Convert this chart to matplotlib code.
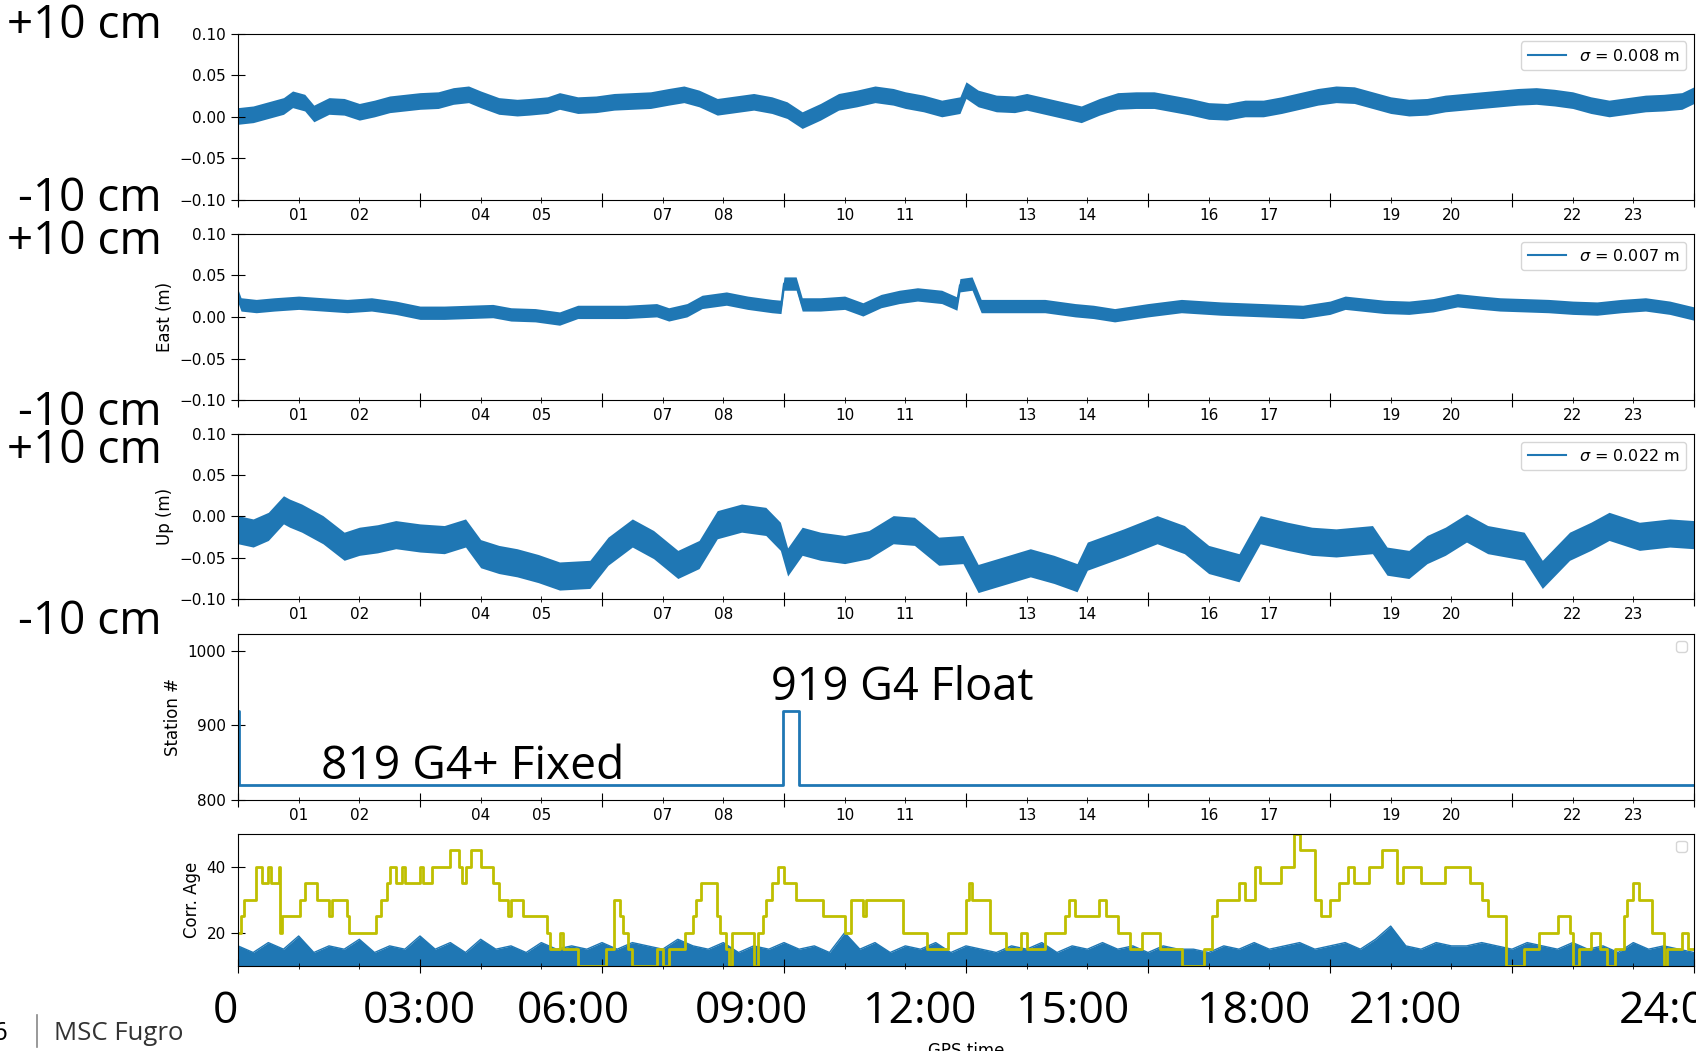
import matplotlib
matplotlib.use('Agg')
import matplotlib.pyplot as plt
from matplotlib.ticker import MultipleLocator, FuncFormatter, NullFormatter
from matplotlib.lines import Line2D
import numpy as np

# ---- data (hours of GPS day) ----
north_t = [0.0, 0.25, 0.5, 0.75, 0.9, 1.1, 1.25, 1.5, 1.75, 2.0, 2.25, 2.5, 2.75, 3.0, 3.3,
           3.55, 3.8, 4.0, 4.3, 4.6, 4.8, 5.1, 5.3, 5.6, 5.9, 6.2, 6.5, 6.8, 7.1, 7.35,
           7.6, 7.9, 8.2, 8.5, 8.8, 9.05, 9.3, 9.6, 9.9, 10.2, 10.5, 10.8, 11.0, 11.3, 11.6,
           11.9, 12.0, 12.2, 12.5, 12.8, 13.0, 13.3, 13.6, 13.9, 14.2, 14.5, 14.8, 15.1, 15.4,
           15.7, 16.0, 16.3, 16.6, 16.9, 17.2, 17.5, 17.8, 18.1, 18.4, 18.7, 19.0, 19.3, 19.6,
           19.9, 20.2, 20.5, 20.8, 21.1, 21.4, 21.7, 22.0, 22.3, 22.6, 22.9, 23.2, 23.5, 23.8, 24.0]
north_v = [0.001, 0.003, 0.008, 0.013, 0.021, 0.017, 0.004, 0.013, 0.012, 0.006, 0.010, 0.015,
           0.017, 0.019, 0.020, 0.025, 0.027, 0.021, 0.013, 0.011, 0.012, 0.014, 0.019, 0.014,
           0.015, 0.018, 0.019, 0.020, 0.024, 0.027, 0.022, 0.012, 0.015, 0.018, 0.014, 0.008,
           -0.004, 0.006, 0.018, 0.022, 0.027, 0.024, 0.020, 0.016, 0.010, 0.014, 0.032, 0.022,
           0.016, 0.015, 0.018, 0.013, 0.008, 0.003, 0.012, 0.019, 0.020, 0.020, 0.016, 0.012,
           0.007, 0.006, 0.010, 0.010, 0.014, 0.019, 0.024, 0.027, 0.026, 0.020, 0.014, 0.011,
           0.012, 0.016, 0.018, 0.020, 0.022, 0.024, 0.025, 0.023, 0.020, 0.014, 0.010, 0.013,
           0.016, 0.017, 0.019, 0.026]
north_spread = 0.010

east_t = [0.0, 0.05, 0.3, 0.6, 1.0, 1.4, 1.8, 2.2, 2.6, 3.0, 3.4, 3.8, 4.2, 4.5, 4.9, 5.3,
          5.6, 6.0, 6.4, 6.9, 7.1, 7.4, 7.65, 8.05, 8.4, 8.8, 8.95, 9.0, 9.2, 9.3, 9.6, 10.0,
          10.3, 10.6, 10.9, 11.2, 11.6, 11.85, 11.9, 12.1, 12.25, 12.7, 13.3, 13.8, 14.1, 14.45,
          15.0, 15.55, 16.2, 16.9, 17.55, 18.0, 18.25, 18.9, 19.3, 19.7, 20.1, 20.5, 20.8, 21.2,
          21.6, 22.0, 22.4, 22.8, 23.2, 23.6, 24.0]
east_v = [0.025, 0.015, 0.013, 0.015, 0.017, 0.015, 0.013, 0.015, 0.011, 0.005, 0.005, 0.006,
          0.007, 0.003, 0.002, -0.002, 0.006, 0.006, 0.006, 0.008, 0.003, 0.008, 0.018, 0.022,
          0.017, 0.013, 0.012, 0.040, 0.040, 0.015, 0.015, 0.017, 0.009, 0.019, 0.024, 0.027,
          0.024, 0.016, 0.038, 0.040, 0.013, 0.013, 0.013, 0.008, 0.006, 0.002, 0.008, 0.013,
          0.010, 0.008, 0.006, 0.011, 0.017, 0.012, 0.011, 0.014, 0.020, 0.017, 0.015, 0.014,
          0.013, 0.011, 0.010, 0.013, 0.015, 0.011, 0.004]
east_spread = 0.008

up_t = [0.0, 0.25, 0.5, 0.75, 0.85, 1.05, 1.4, 1.75, 2.0, 2.3, 2.6, 3.0, 3.4, 3.75, 4.0, 4.3,
        4.6, 4.95, 5.3, 5.8, 6.1, 6.5, 6.85, 7.25, 7.6, 7.9, 8.3, 8.7, 8.94, 9.06, 9.3, 9.6,
        10.0, 10.4, 10.8, 11.15, 11.55, 11.95, 12.2, 12.7, 13.06, 13.45, 13.83, 14.0, 14.3,
        14.6, 15.15, 15.6, 16.0, 16.5, 16.85, 17.3, 17.7, 18.1, 18.7, 18.94, 19.3, 19.6, 19.9,
        20.25, 20.6, 21.2, 21.5, 21.95, 22.3, 22.6, 23.1, 23.6, 24.0]
up_v = [-0.016, -0.020, -0.012, 0.008, 0.004, -0.002, -0.016, -0.036, -0.030, -0.027, -0.022,
        -0.026, -0.028, -0.020, -0.045, -0.052, -0.056, -0.063, -0.072, -0.070, -0.042, -0.020,
        -0.034, -0.058, -0.046, -0.010, -0.002, -0.006, -0.024, -0.055, -0.030, -0.036, -0.040,
        -0.034, -0.016, -0.018, -0.042, -0.040, -0.075, -0.064, -0.056, -0.064, -0.074, -0.048,
        -0.040, -0.032, -0.016, -0.028, -0.052, -0.062, -0.016, -0.024, -0.030, -0.032, -0.028,
        -0.054, -0.058, -0.040, -0.030, -0.014, -0.028, -0.036, -0.070, -0.036, -0.024, -0.012,
        -0.024, -0.020, -0.022]
up_spread = 0.017

sigma_labels = ['$\\sigma$ = 0.008 m', '$\\sigma$ = 0.007 m', '$\\sigma$ = 0.022 m']

station_t = [0.0, 0.02, 8.98, 9.25, 24.0]
station_v = [919, 819, 919, 819, 819]

age_t = [0.0, 0.05, 0.1, 0.3, 0.4, 0.5, 0.55, 0.67, 0.7, 0.72, 1.03, 1.1, 1.3, 1.5, 1.55, 1.79,
         1.83, 2.28, 2.35, 2.45, 2.5, 2.6, 2.7, 2.75, 3.0, 3.05, 3.2, 3.5, 3.65, 3.7, 3.75, 3.84,
         4.0, 4.2, 4.3, 4.45, 4.5, 4.7, 5.1, 5.15, 5.3, 5.36, 5.6, 6.07, 6.2, 6.3, 6.34, 6.43,
         6.5, 6.9, 7.0, 7.1, 7.37, 7.5, 7.55, 7.63, 7.9, 7.95, 8.05, 8.1, 8.15, 8.5, 8.57, 8.65,
         8.7, 8.8, 8.9, 9.0, 9.2, 9.64, 10.0, 10.1, 10.3, 10.35, 10.96, 11.36, 11.7, 12.0, 12.05,
         12.1, 12.4, 12.66, 12.9, 13.0, 13.3, 13.64, 13.7, 13.8, 14.2, 14.3, 14.5, 14.7, 14.9,
         15.2, 15.56, 15.92, 16.05, 16.14, 16.5, 16.6, 16.77, 16.85, 17.2, 17.4, 17.5, 17.75,
         17.85, 18.0, 18.15, 18.3, 18.4, 18.65, 18.86, 19.1, 19.2, 19.5, 19.9, 20.3, 20.5, 20.6,
         20.9, 21.2, 21.45, 21.76, 21.95, 22.0, 22.1, 22.3, 22.45, 22.57, 22.7, 22.84, 22.9,
         23.0, 23.1, 23.3, 23.5, 23.55, 23.8, 23.9, 24.0]
age_yellow = [20, 25, 30, 40, 35, 40, 35, 40, 20, 25, 30, 35, 30, 25, 30, 25,
              20, 25, 30, 35, 40, 35, 40, 35, 40, 35, 40, 45, 40, 35, 40, 45,
              40, 35, 30, 25, 30, 25, 20, 15, 20, 15, 10, 15, 30, 25, 20, 15,
              10, 15, 10, 15, 20, 25, 30, 35, 25, 20, 15, 10, 20, 10, 20, 25,
              30, 35, 40, 35, 30, 25, 20, 30, 25, 30, 20, 15, 20, 30, 35,
              30, 20, 15, 20, 15, 20, 25, 30, 25, 30, 25, 20, 15, 20,
              15, 10, 15, 25, 30, 35, 30, 40, 35, 40, 50, 45, 30,
              25, 30, 35, 40, 35, 40, 45, 35, 40, 35, 40, 35, 30, 25,
              10, 15, 20, 25, 20, 10, 15, 20, 15, 10, 15, 25, 30,
              35, 30, 20, 10, 15, 20, 15, 15]
age_blue = [16, 14, 17, 15, 19, 14, 16, 15, 18,
            14, 16, 15, 19, 15, 17, 14, 18,
            15, 16, 14, 17, 15, 16, 15, 17,
            15, 17, 16, 15, 18, 16, 15, 17,
            14, 16, 15, 17, 15, 16, 14, 20,
            15, 17, 14, 16, 15, 17, 14, 16,
            15, 14, 16, 15, 17, 14, 16, 15,
            17, 15, 16, 14, 16, 15, 15, 14,
            16, 15, 17, 15, 16, 17, 15, 16,
            17, 15, 18, 22, 16, 15, 17, 16,
            16, 17, 16, 15, 17, 16, 15, 17,
            15, 16, 14, 17, 15, 16, 15, 14]

blue = '#1f77b4'
yellow = '#bfbf00'
W, H = 1696.0, 1051.0
big_font = ['Open Sans', 'DejaVu Sans']


def box(top, bottom):
    return [238 / W, 1 - bottom / H, (1694 - 238) / W, (bottom - top) / H]


def time_axis(ax, labels=True):
    ax.set_xlim(0, 24)
    ax.xaxis.set_major_locator(MultipleLocator(3))
    ax.xaxis.set_minor_locator(MultipleLocator(1))
    ax.xaxis.set_major_formatter(NullFormatter())
    ax.xaxis.set_minor_formatter(FuncFormatter(lambda x, p: '%02d' % round(x)))
    ax.tick_params(which='major', direction='inout', length=10.5, labelsize=11)
    ax.tick_params(which='minor', direction='inout', length=5, labelsize=11)
    if not labels:
        ax.tick_params(which='both', labelbottom=False)


fig = plt.figure(figsize=(16.96, 10.51), dpi=100)

boxes = [(33.5, 200.1), (233.6, 400.2), (433.7, 599.2)]
series = [(north_t, north_v, north_spread, None),
          (east_t, east_v, east_spread, 'East (m)'),
          (up_t, up_v, up_spread, 'Up (m)')]
for (top, bot), (t, v, s, ylab), lab in zip(boxes, series, sigma_labels):
    ax = fig.add_axes(box(top, bot))
    t = np.array(t)
    v = np.array(v)
    ax.fill_between(t, v - s, v + s, color=blue, lw=0)
    ln, = ax.plot(t, v, color=blue, lw=1.5)
    ax.set_ylim(-0.1, 0.1)
    ax.set_yticks([-0.1, -0.05, 0.0, 0.05, 0.1])
    time_axis(ax)
    if ylab:
        ax.set_ylabel(ylab, fontsize=12)
    ax.legend([ln], [lab], loc='upper right', fontsize=11.5, handlelength=2.4)

# station number
ax4 = fig.add_axes(box(633.8, 799.5))
ax4.plot(station_t, station_v, drawstyle='steps-post', color=blue, lw=2)
ax4.set_ylim(800, 1023)
ax4.set_yticks([800, 900, 1000])
time_axis(ax4)
ax4.set_ylabel('Station #', fontsize=12)
ax4.legend(handles=[], loc='upper right')

# correction age
ax5 = fig.add_axes(box(833.7, 965.7))
blue_t = np.linspace(0, 24, len(age_blue))
ax5.fill_between(blue_t, 10, age_blue, color=blue, lw=0)
ax5.plot(blue_t, age_blue, color=blue, lw=1)
ax5.plot(age_t, age_yellow, drawstyle='steps-post', color=yellow, lw=2)
ax5.set_ylim(10, 50)
ax5.set_yticks([20, 40])
time_axis(ax5, labels=False)
ax5.set_ylabel('Corr. Age', fontsize=12)
ax5.legend(handles=[], loc='upper right')
ax5.set_xlabel('GPS time', fontsize=12)
ax5.xaxis.set_label_coords(0.5, -0.578)

# slide annotations on top of the figure
for y in [26.0, 242.0, 451.0]:
    fig.text(162 / W, 1 - y / H, '+10 cm', ha='right', va='center', fontsize=33, family=big_font)
for y in [199.0, 413.0, 622.0]:
    fig.text(162 / W, 1 - y / H, '-10 cm', ha='right', va='center', fontsize=33, family=big_font)

fig.text(771 / W, 1 - 688.0 / H, '919 G4 Float', ha='left', va='center', fontsize=32.5, family=big_font)
fig.text(321 / W, 1 - 767.0 / H, '819 G4+ Fixed', ha='left', va='center', fontsize=33.2, family=big_font)

time_marks = ['0', '03:00', '06:00', '09:00', '12:00', '15:00', '18:00', '21:00']
time_x = [225.5, 419.7, 573.8, 751.7, 919.6, 1072.4, 1253.6, 1405.0]
for lab, x in zip(time_marks, time_x):
    fig.text(x / W, 1 - 1012.0 / H, lab, ha='center', va='center', fontsize=32, family=big_font)
fig.text(1619 / W, 1 - 1012.0 / H, '24:00', ha='left', va='center', fontsize=32, family=big_font)

fig.text(7 / W, 1 - 1033 / H, '6', ha='right', va='center', fontsize=18.5, family=big_font)
fig.add_artist(Line2D([37 / W, 37 / W], [1 - 1015 / H, 1 - 1047 / H], color='#888888', lw=1.2))
fig.text(54 / W, 1 - 1033 / H, 'MSC Fugro', ha='left', va='center', fontsize=18.5,
         family=big_font, color='#333333')

fig.savefig('out.png', dpi=100)
